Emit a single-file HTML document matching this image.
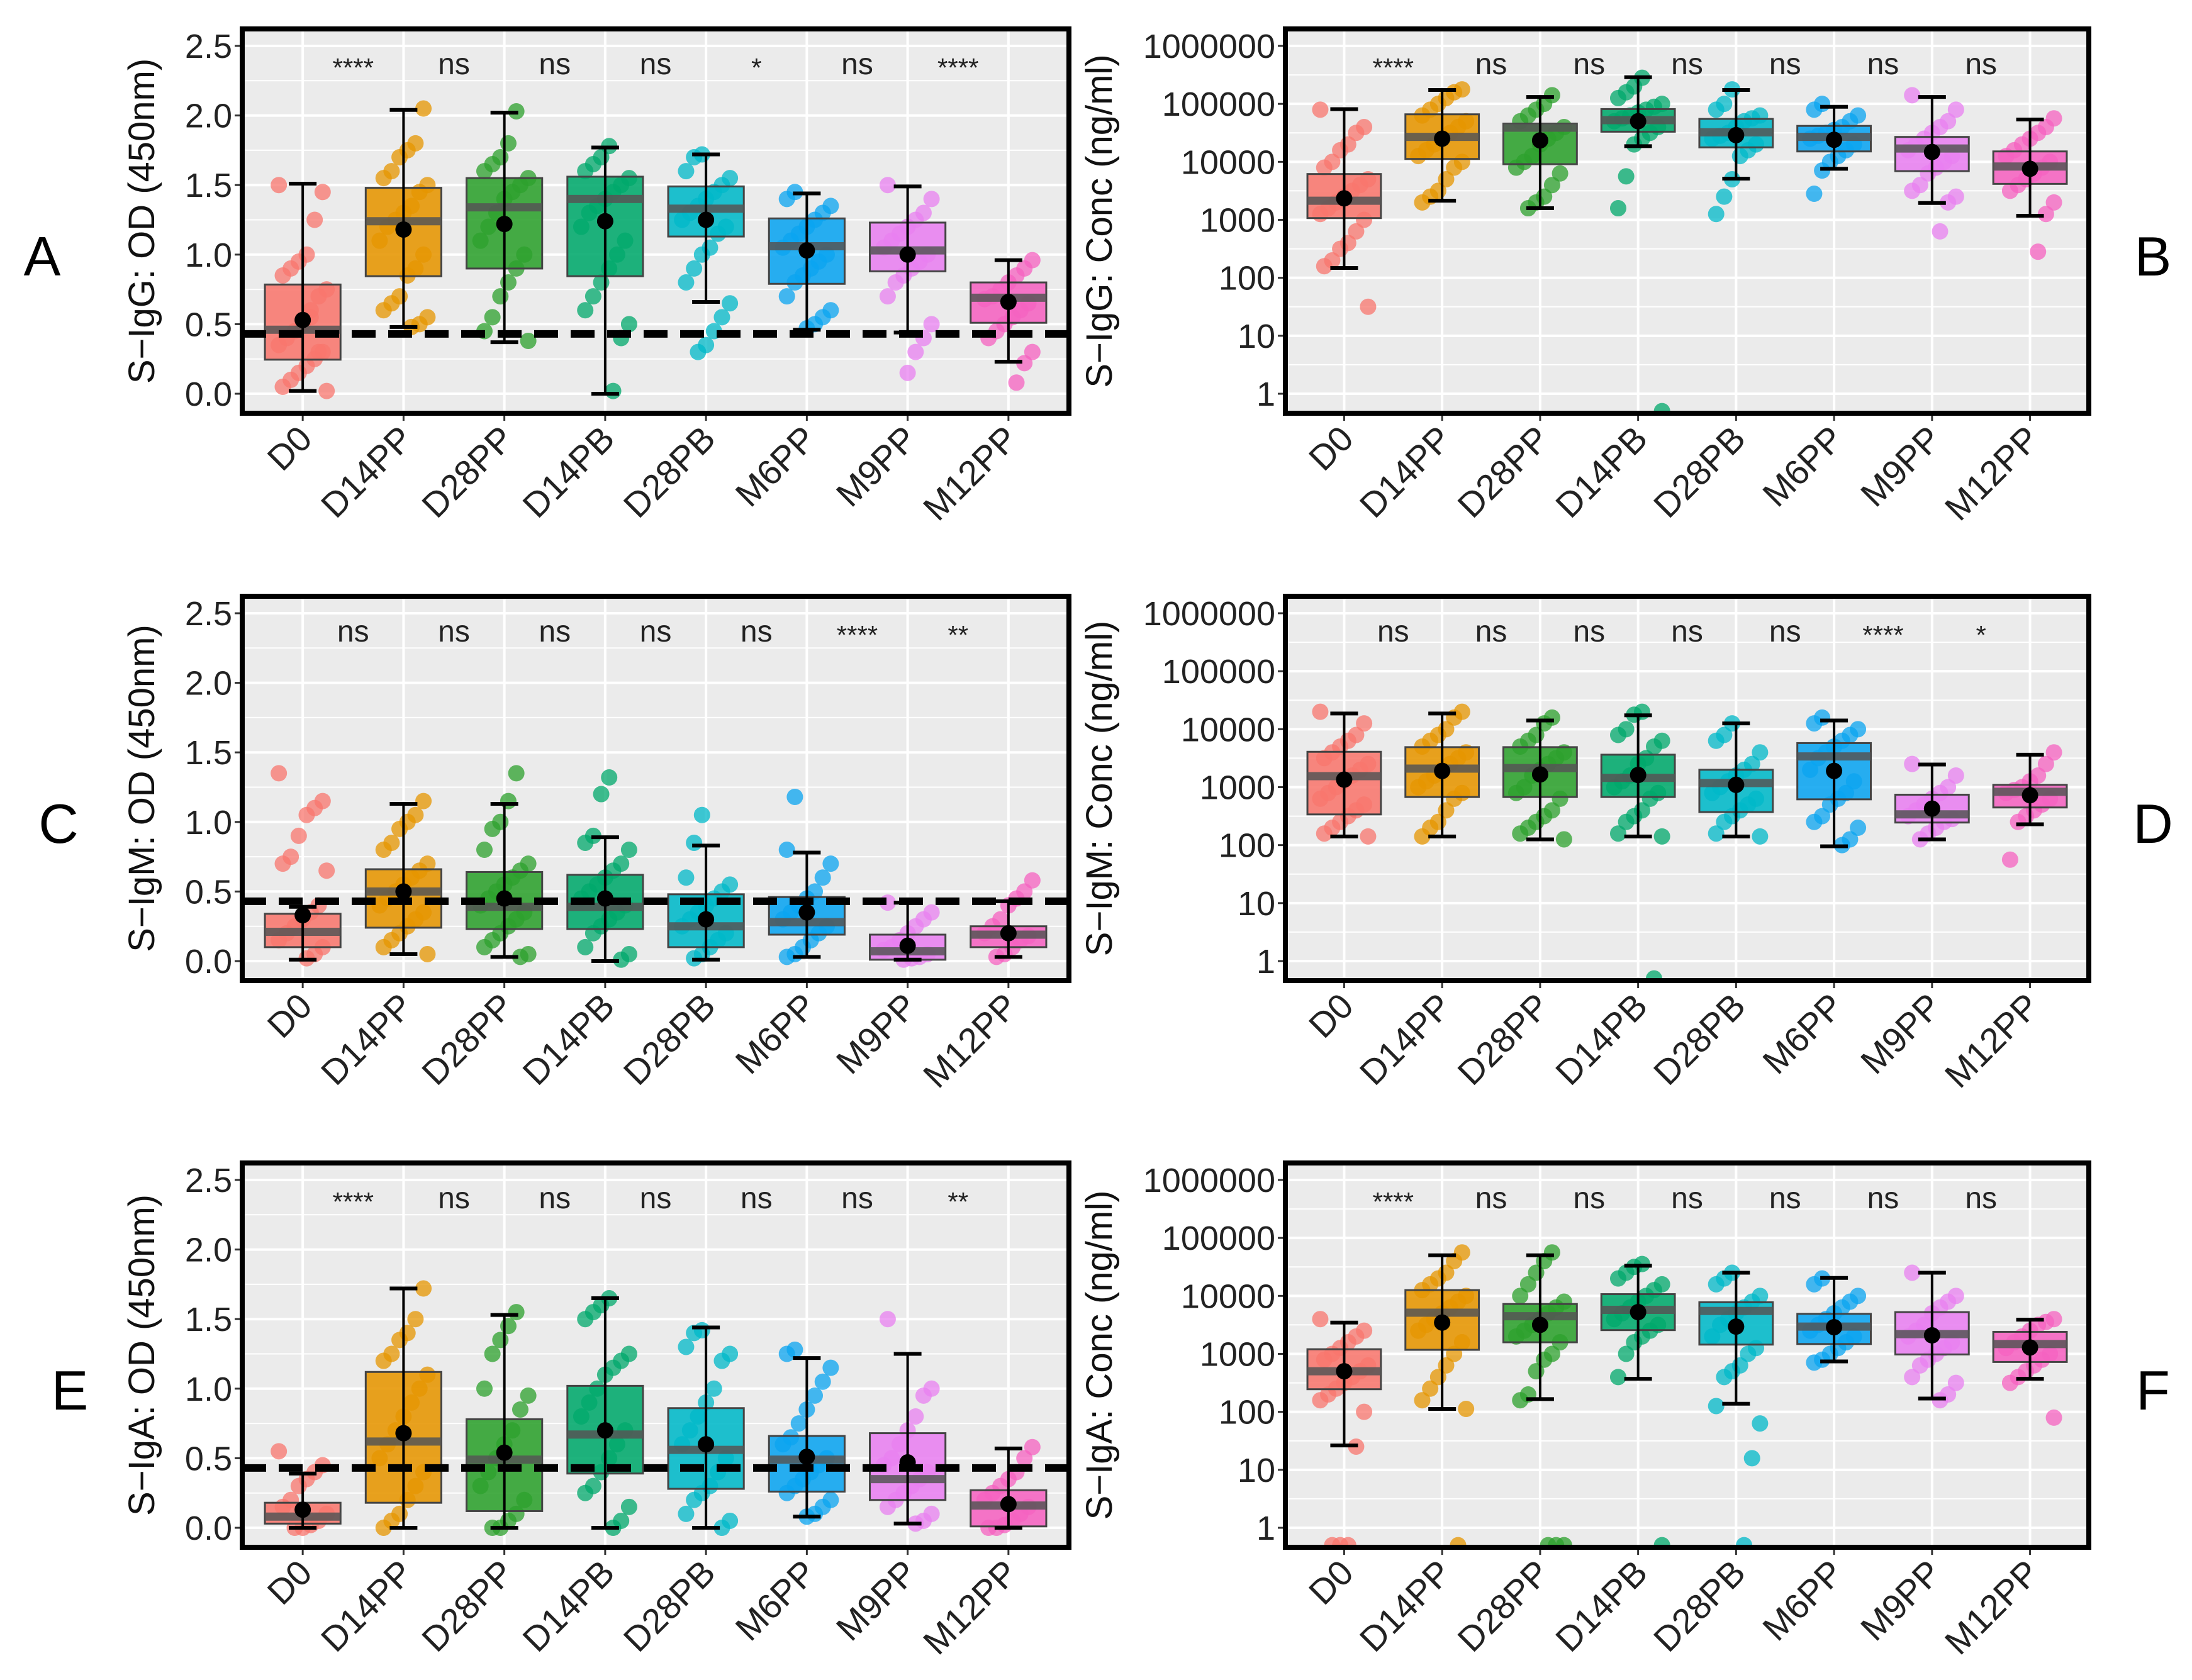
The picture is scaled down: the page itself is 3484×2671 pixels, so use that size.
<!DOCTYPE html>
<html><head><meta charset="utf-8"><style>
html,body{margin:0;padding:0;background:#fff;}
svg{display:block;font-family:"Liberation Sans",Arial,sans-serif;}
</style></head><body>
<svg id="fig" width="3484" height="2671" viewBox="0 0 3484 2671" xmlns="http://www.w3.org/2000/svg"></svg>
<script>
const categories = ["D0","D14PP","D28PP","D14PB","D28PB","M6PP","M9PP","M12PP"];
const groupColors = ["#F8766D","#E69500","#2CA02C","#00A86B","#00B8C8","#0AA4F0","#E880F0","#F562C0"];
const odTicks = [0,0.5,1.0,1.5,2.0,2.5];
const odTickLabels = ["0.0","0.5","1.0","1.5","2.0","2.5"];
const logTicks = [0,1,2,3,4,5,6];
const logTickLabels = ["1","10","100","1000","10000","100000","1000000"];
const cutoffOD = 0.43;

// Panel A: S-IgG OD
const aQ1 = [0.245,0.845,0.90,0.845,1.13,0.79,0.88,0.51];
const aMed = [0.46,1.24,1.34,1.40,1.33,1.06,1.03,0.69];
const aQ3 = [0.785,1.48,1.55,1.56,1.49,1.26,1.23,0.80];
const aMean = [0.53,1.18,1.22,1.24,1.25,1.03,1.00,0.66];
const aLo = [0.02,0.48,0.37,0.0,0.66,0.46,0.44,0.23];
const aHi = [1.51,2.04,2.02,1.77,1.72,1.44,1.49,0.96];
const aSig = ["****","ns","ns","ns","*","ns","****"];
const aPts = [
[1.5,1.45,1.25,1.0,0.95,0.9,0.85,0.75,0.7,0.6,0.5,0.45,0.4,0.35,0.3,0.25,0.2,0.15,0.1,0.05,0.02,0.3,0.55],
[2.05,1.8,1.75,1.7,1.6,1.55,1.5,1.45,1.35,1.3,1.25,1.2,1.1,1.0,0.9,0.85,0.7,0.65,0.6,0.55,0.5,0.48],
[2.03,1.8,1.7,1.65,1.6,1.55,1.5,1.45,1.4,1.3,1.2,1.1,1.0,0.9,0.8,0.7,0.55,0.45,0.38],
[1.78,1.7,1.65,1.6,1.55,1.5,1.45,1.4,1.35,1.3,1.2,1.1,1.0,0.9,0.8,0.7,0.6,0.5,0.4,0.02],
[1.72,1.7,1.6,1.55,1.5,1.45,1.4,1.35,1.3,1.25,1.2,1.15,1.05,1.0,0.9,0.8,0.65,0.55,0.45,0.35,0.3],
[1.45,1.4,1.35,1.3,1.25,1.2,1.15,1.1,1.05,1.0,0.95,0.9,0.85,0.8,0.7,0.6,0.55,0.5,0.47],
[1.5,1.4,1.3,1.25,1.2,1.15,1.1,1.05,1.0,0.95,0.9,0.85,0.8,0.7,0.5,0.4,0.3,0.15],
[0.96,0.9,0.85,0.8,0.75,0.7,0.68,0.65,0.6,0.55,0.5,0.45,0.4,0.3,0.22,0.08]];

// Panel B: S-IgG conc (log10)
const bQ1 = [3.03,4.05,3.96,4.52,4.25,4.18,3.84,3.62];
const bMed = [3.33,4.43,4.59,4.72,4.51,4.43,4.23,3.92];
const bQ3 = [3.79,4.82,4.66,4.91,4.74,4.62,4.43,4.18];
const bMean = [3.37,4.40,4.37,4.70,4.46,4.38,4.17,3.88];
const bLo = [2.17,3.33,3.20,4.27,3.71,3.88,3.29,3.07];
const bHi = [4.91,5.24,5.12,5.46,5.24,4.95,5.12,4.73];
const bSig = ["****","ns","ns","ns","ns","ns","ns"];
const bPts = [
[4.9,4.6,4.5,4.3,4.2,4.0,3.9,3.7,3.6,3.5,3.4,3.3,3.2,3.1,3.0,2.8,2.6,2.5,2.3,2.2,1.5],
[5.25,5.2,5.1,5.0,4.9,4.8,4.7,4.6,4.5,4.4,4.3,4.2,4.1,4.0,3.9,3.7,3.5,3.4,3.3],
[5.15,5.0,4.9,4.8,4.7,4.6,4.5,4.4,4.3,4.1,4.0,3.9,3.8,3.6,3.4,3.3,3.2],
[5.45,5.3,5.2,5.1,5.0,4.95,4.9,4.85,4.8,4.75,4.7,4.6,4.5,4.4,4.3,3.75,3.2,-0.3],
[5.25,5.0,4.9,4.8,4.75,4.7,4.6,4.5,4.45,4.4,4.3,4.2,4.1,3.7,3.4,3.1],
[5.0,4.9,4.8,4.7,4.6,4.55,4.5,4.45,4.4,4.3,4.2,4.1,4.0,3.85,3.45],
[5.15,4.9,4.7,4.6,4.5,4.4,4.3,4.2,4.1,4.0,3.9,3.8,3.6,3.5,3.4,3.3,2.8],
[4.75,4.6,4.5,4.4,4.3,4.2,4.1,4.0,3.9,3.8,3.7,3.6,3.5,3.3,3.1,2.45]];

// Panel C: S-IgM OD
const cQ1 = [0.10,0.24,0.23,0.23,0.10,0.19,0.01,0.10];
const cMed = [0.21,0.50,0.39,0.39,0.25,0.28,0.07,0.19];
const cQ3 = [0.34,0.66,0.64,0.62,0.48,0.46,0.19,0.25];
const cMean = [0.33,0.50,0.45,0.45,0.30,0.35,0.11,0.20];
const cLo = [0.01,0.05,0.03,0.0,0.01,0.03,0.01,0.03];
const cHi = [0.39,1.13,1.13,0.89,0.83,0.78,0.42,0.43];
const cSig = ["ns","ns","ns","ns","ns","****","**"];
const cPts = [
[1.35,1.15,1.1,1.05,0.9,0.75,0.7,0.65,0.4,0.35,0.3,0.25,0.2,0.15,0.1,0.05,0.02],
[1.15,1.05,1.0,0.95,0.85,0.8,0.7,0.65,0.6,0.55,0.5,0.45,0.4,0.35,0.3,0.25,0.2,0.15,0.1,0.05],
[1.35,1.15,1.0,0.95,0.8,0.7,0.65,0.6,0.55,0.5,0.45,0.4,0.35,0.3,0.25,0.2,0.15,0.1,0.05,0.03],
[1.32,1.2,0.9,0.85,0.8,0.7,0.65,0.6,0.55,0.5,0.45,0.4,0.35,0.3,0.25,0.2,0.1,0.05,0.01],
[1.05,0.85,0.6,0.55,0.5,0.45,0.4,0.35,0.3,0.25,0.2,0.15,0.1,0.05,0.02],
[1.18,0.8,0.7,0.6,0.5,0.45,0.4,0.35,0.3,0.25,0.2,0.15,0.1,0.05,0.03],
[0.42,0.35,0.3,0.25,0.2,0.15,0.1,0.08,0.05,0.03,0.02,0.01],
[0.58,0.5,0.45,0.4,0.3,0.25,0.2,0.18,0.15,0.1,0.05,0.03]];

// Panel D: S-IgM conc (log10)
const dQ1 = [2.53,2.83,2.83,2.83,2.57,2.79,2.39,2.65];
const dMed = [3.19,3.32,3.33,3.16,3.07,3.53,2.53,2.92];
const dQ3 = [3.61,3.69,3.69,3.56,3.30,3.76,2.87,3.04];
const dMean = [3.13,3.28,3.22,3.21,3.04,3.28,2.63,2.86];
const dLo = [2.15,2.15,2.10,2.15,2.15,1.98,2.10,2.36];
const dHi = [4.27,4.27,4.15,4.24,4.10,4.15,3.39,3.56];
const dSig = ["ns","ns","ns","ns","ns","****","*"];
const dPts = [
[4.3,4.1,3.9,3.8,3.7,3.6,3.5,3.4,3.3,3.2,3.1,3.0,2.9,2.8,2.7,2.6,2.5,2.4,2.3,2.2,2.15],
[4.3,4.2,4.0,3.9,3.8,3.7,3.6,3.5,3.4,3.3,3.2,3.1,3.0,2.9,2.8,2.6,2.4,2.3,2.15],
[4.2,4.1,3.9,3.8,3.7,3.6,3.5,3.4,3.3,3.2,3.0,2.9,2.8,2.6,2.5,2.4,2.3,2.2,2.1],
[4.3,4.25,4.0,3.9,3.8,3.7,3.5,3.4,3.2,3.1,3.0,2.9,2.8,2.6,2.5,2.4,2.2,2.15,-0.3],
[4.1,3.9,3.8,3.6,3.4,3.3,3.2,3.1,3.0,2.9,2.8,2.7,2.6,2.5,2.4,2.2,2.15],
[4.2,4.1,4.0,3.9,3.8,3.7,3.6,3.5,3.3,3.1,2.9,2.8,2.7,2.5,2.4,2.3,2.1,2.0],
[3.4,3.2,3.0,2.9,2.8,2.7,2.6,2.5,2.45,2.4,2.3,2.2,2.1],
[3.6,3.4,3.2,3.1,3.0,2.95,2.9,2.8,2.7,2.6,2.5,2.4,1.75]];

// Panel E: S-IgA OD
const eQ1 = [0.03,0.18,0.12,0.39,0.28,0.26,0.20,0.01];
const eMed = [0.08,0.62,0.49,0.67,0.56,0.49,0.35,0.16];
const eQ3 = [0.18,1.12,0.78,1.02,0.86,0.66,0.68,0.27];
const eMean = [0.13,0.68,0.54,0.70,0.60,0.51,0.47,0.17];
const eLo = [0,0,0,0,0,0.08,0.03,0];
const eHi = [0.39,1.72,1.53,1.65,1.44,1.22,1.25,0.57];
const eSig = ["****","ns","ns","ns","ns","ns","**"];
const ePts = [
[0.55,0.45,0.4,0.35,0.3,0.2,0.15,0.1,0.05,0.02,0.0,0.0],
[1.72,1.5,1.4,1.35,1.25,1.2,1.1,1.0,0.9,0.8,0.7,0.6,0.5,0.4,0.3,0.2,0.1,0.05,0.0],
[1.55,1.45,1.35,1.25,1.0,0.95,0.85,0.7,0.6,0.5,0.4,0.3,0.2,0.1,0.05,0.0,0.0],
[1.65,1.6,1.55,1.5,1.25,1.2,1.15,1.1,1.0,0.9,0.8,0.7,0.6,0.5,0.4,0.3,0.25,0.15,0.05,0.0],
[1.42,1.4,1.3,1.25,1.2,1.0,0.9,0.8,0.7,0.6,0.5,0.4,0.3,0.25,0.2,0.1,0.05,0.0],
[1.28,1.25,1.15,1.05,0.95,0.85,0.75,0.65,0.6,0.5,0.45,0.4,0.35,0.3,0.25,0.2,0.15,0.1,0.08],
[1.5,1.0,0.95,0.8,0.7,0.6,0.5,0.45,0.4,0.35,0.3,0.25,0.2,0.15,0.1,0.05,0.03],
[0.58,0.5,0.4,0.35,0.3,0.25,0.2,0.15,0.1,0.05,0.02,0.0,0.0]];

// Panel F: S-IgA conc (log10)
const fQ1 = [2.39,3.07,3.20,3.41,3.16,3.17,2.99,2.86];
const fMed = [2.70,3.71,3.65,3.76,3.74,3.47,3.34,3.17];
const fQ3 = [3.08,4.10,3.86,4.03,3.89,3.69,3.72,3.38];
const fMean = [2.70,3.54,3.50,3.72,3.47,3.46,3.32,3.11];
const fLo = [1.42,2.05,2.22,2.57,2.14,2.87,2.23,2.57];
const fHi = [3.54,4.70,4.70,4.52,4.40,4.31,4.40,3.59];
const fSig = ["****","ns","ns","ns","ns","ns","ns"];
const fPts = [
[3.6,3.4,3.3,3.2,3.1,3.0,2.9,2.8,2.7,2.6,2.5,2.4,2.3,2.2,2.0,1.4,-0.3,-0.3,-0.3],
[4.75,4.6,4.4,4.3,4.2,4.1,4.0,3.9,3.8,3.7,3.6,3.5,3.4,3.2,3.0,2.8,2.6,2.4,2.2,2.05,-0.3],
[4.75,4.6,4.4,4.2,4.0,3.9,3.8,3.7,3.6,3.5,3.4,3.3,3.2,3.0,2.9,2.7,2.3,2.2,-0.3,-0.3,-0.3],
[4.55,4.5,4.4,4.3,4.2,4.1,4.0,3.9,3.8,3.7,3.6,3.5,3.4,3.3,3.2,3.0,2.6,-0.3],
[4.4,4.3,4.2,4.0,3.9,3.8,3.7,3.6,3.5,3.3,3.1,3.0,2.8,2.7,2.6,2.1,1.8,1.2,-0.3],
[4.3,4.2,4.0,3.9,3.8,3.7,3.6,3.5,3.4,3.3,3.2,3.1,3.0,2.9,2.85],
[4.4,4.0,3.9,3.8,3.7,3.5,3.4,3.3,3.2,3.1,3.0,2.9,2.8,2.6,2.5,2.3,2.2],
[3.6,3.55,3.5,3.4,3.3,3.2,3.1,3.0,2.9,2.8,2.7,2.6,2.5,1.9]];

const NS = "http://www.w3.org/2000/svg";
const svg = document.getElementById("fig");
function mk(tag, attrs, parent){
  const e = document.createElementNS(NS, tag);
  for (const k in attrs) e.setAttribute(k, attrs[k]);
  (parent||svg).appendChild(e);
  return e;
}

function drawPanel(p){
  const g = mk("g", {});
  
  
  const L = p.x0, R = p.x1, T = p.top, B = p.top + 611;
  const isLog = p.log;
  const y = isLog ? (v => p.top + 580 - v * 92.17) : (v => p.top + 580 - v * 221.2);
  const bw = (R - L) / 8.2;
  const x = i => L + (i + 0.6) * bw;
  const bg = mk("rect", {x:L, y:T, width:R-L, height:B-T, fill:"#EBEBEB"}, g);
  
  
  const ticks = isLog ? logTicks : odTicks;
  const labels = isLog ? logTickLabels : odTickLabels;
  for (let k = 0; k < ticks.length; k++){
    const mv = isLog ? ticks[k] + 0.5 : ticks[k] + 0.25;
    const yy = y(mv);
    if (yy > T && yy < B) mk("line", {x1:L, x2:R, y1:yy, y2:yy, stroke:"#fff", "stroke-width":2}, g);
    if (k === 0){
      const yb = y(isLog ? ticks[0] - 0.5 : ticks[0] - 0.25);
      if (yb > T && yb < B) mk("line", {x1:L, x2:R, y1:yb, y2:yb, stroke:"#fff", "stroke-width":2}, g);
    }
  }
  ticks.forEach((t, k) => {
    const yy = y(t);
    mk("line", {x1:L, x2:R, y1:yy, y2:yy, stroke:"#fff", "stroke-width":4}, g);
    mk("line", {x1:L-12, x2:L, y1:yy, y2:yy, stroke:"#333", "stroke-width":3}, g);
    const tl = mk("text", {x:L-16, y:yy+19, "text-anchor":"end", "font-size":54, fill:"#222"}, g);
    tl.textContent = labels[k];
    
    
  });
  categories.forEach((c, i) => {
    const xx = x(i);
    mk("line", {x1:xx, x2:xx, y1:T, y2:B, stroke:"#fff", "stroke-width":4}, g);
    mk("line", {x1:xx, x2:xx, y1:B, y2:B+12, stroke:"#333", "stroke-width":3}, g);
    const tx = mk("text", {x:0, y:0, "text-anchor":"end", "font-size":56, fill:"#222",
      transform:`translate(${xx+18},${B+44}) rotate(-45)`}, g);
    tx.textContent = c;
    
    
  });
  const cid = "clip" + p.letter;
  const cp = mk("clipPath", {id:cid}, g);
  mk("rect", {x:L, y:T, width:R-L, height:B-T}, cp);
  const data = mk("g", {"clip-path":`url(#${cid})`}, g);
  p.pts.forEach((arr, i) => {
    arr.forEach((v, j) => {
      const off = (((j * 37 + i * 11) % 13) - 6) / 6 * 38;
      const pt = mk("circle", {cx:x(i)+off, cy:y(v), r:13, fill:groupColors[i], "fill-opacity":0.75}, data);
      
      
    });
  });
  const hw = bw * 0.375;
  categories.forEach((c, i) => {
    const xx = x(i);
    const box = mk("rect", {x:xx-hw, y:y(p.q3[i]), width:2*hw, height:y(p.q1[i])-y(p.q3[i]),
      fill:groupColors[i], "fill-opacity":0.88, stroke:"#444", "stroke-width":3}, data);
    
    
    const med = mk("line", {x1:xx-hw, x2:xx+hw, y1:y(p.med[i]), y2:y(p.med[i]), stroke:"#555", "stroke-opacity":0.85, "stroke-width":13}, data);
    
    
  });
  if (!isLog){
    const dl = mk("line", {x1:L, x2:R, y1:y(cutoffOD), y2:y(cutoffOD), stroke:"#000", "stroke-width":12, "stroke-dasharray":"38 20"}, data);
    
    
  }
  categories.forEach((c, i) => {
    const xx = x(i);
    const eb = mk("g", {stroke:"#000", "stroke-width":4}, data);
    
    
    mk("line", {x1:xx, x2:xx, y1:y(p.hi[i]), y2:y(p.lo[i])}, eb);
    mk("line", {x1:xx-22, x2:xx+22, y1:y(p.hi[i]), y2:y(p.hi[i]), "stroke-width":6}, eb);
    mk("line", {x1:xx-22, x2:xx+22, y1:y(p.lo[i]), y2:y(p.lo[i]), "stroke-width":6}, eb);
    const mn = mk("circle", {cx:xx, cy:y(p.mean[i]), r:13, fill:"#000"}, data);
    
    
  });
  p.sig.forEach((s, i) => {
    const xx = (x(i) + x(i+1)) / 2;
    const st = mk("text", {x:xx, y:T + (s.indexOf("*")>=0 ? 76 : 72), "text-anchor":"middle", "font-size": s.indexOf("*")>=0 ? 42 : 48, fill:"#222"}, g);
    st.textContent = s;
    
    
  });
  mk("rect", {x:L, y:T, width:R-L, height:B-T, fill:"none", stroke:"#000", "stroke-width":8}, g);
  const tx0 = isLog ? L - 276 : L - 140;
  const yt = mk("text", {x:0, y:0, "text-anchor":"middle", "font-size":58, fill:"#111",
    transform:`translate(${tx0},${(T+B)/2}) rotate(-90)`}, g);
  yt.textContent = p.title;
  
  
  const lt = mk("text", {x:p.lx, y:T+392, "text-anchor":"middle", "font-size":88, fill:"#000"}, g);
  lt.textContent = p.letter;
  
  
}

const rowTops = [46, 948, 1849];
drawPanel({letter:"A", title:"S\u2212IgG: OD (450nm)", log:false, x0:385, x1:1699, top:rowTops[0], lx:67,
  q1:aQ1, med:aMed, q3:aQ3, mean:aMean, lo:aLo, hi:aHi, sig:aSig, pts:aPts});
drawPanel({letter:"B", title:"S\u2212IgG: Conc (ng/ml)", log:true, x0:2043, x1:3320, top:rowTops[0], lx:3422,
  q1:bQ1, med:bMed, q3:bQ3, mean:bMean, lo:bLo, hi:bHi, sig:bSig, pts:bPts});
drawPanel({letter:"C", title:"S\u2212IgM: OD (450nm)", log:false, x0:385, x1:1699, top:rowTops[1], lx:93,
  q1:cQ1, med:cMed, q3:cQ3, mean:cMean, lo:cLo, hi:cHi, sig:cSig, pts:cPts});
drawPanel({letter:"D", title:"S\u2212IgM: Conc (ng/ml)", log:true, x0:2043, x1:3320, top:rowTops[1], lx:3422,
  q1:dQ1, med:dMed, q3:dQ3, mean:dMean, lo:dLo, hi:dHi, sig:dSig, pts:dPts});
drawPanel({letter:"E", title:"S\u2212IgA: OD (450nm)", log:false, x0:385, x1:1699, top:rowTops[2], lx:111,
  q1:eQ1, med:eMed, q3:eQ3, mean:eMean, lo:eLo, hi:eHi, sig:eSig, pts:ePts});
drawPanel({letter:"F", title:"S\u2212IgA: Conc (ng/ml)", log:true, x0:2043, x1:3320, top:rowTops[2], lx:3422,
  q1:fQ1, med:fMed, q3:fQ3, mean:fMean, lo:fLo, hi:fHi, sig:fSig, pts:fPts});
</script>
</body></html>
